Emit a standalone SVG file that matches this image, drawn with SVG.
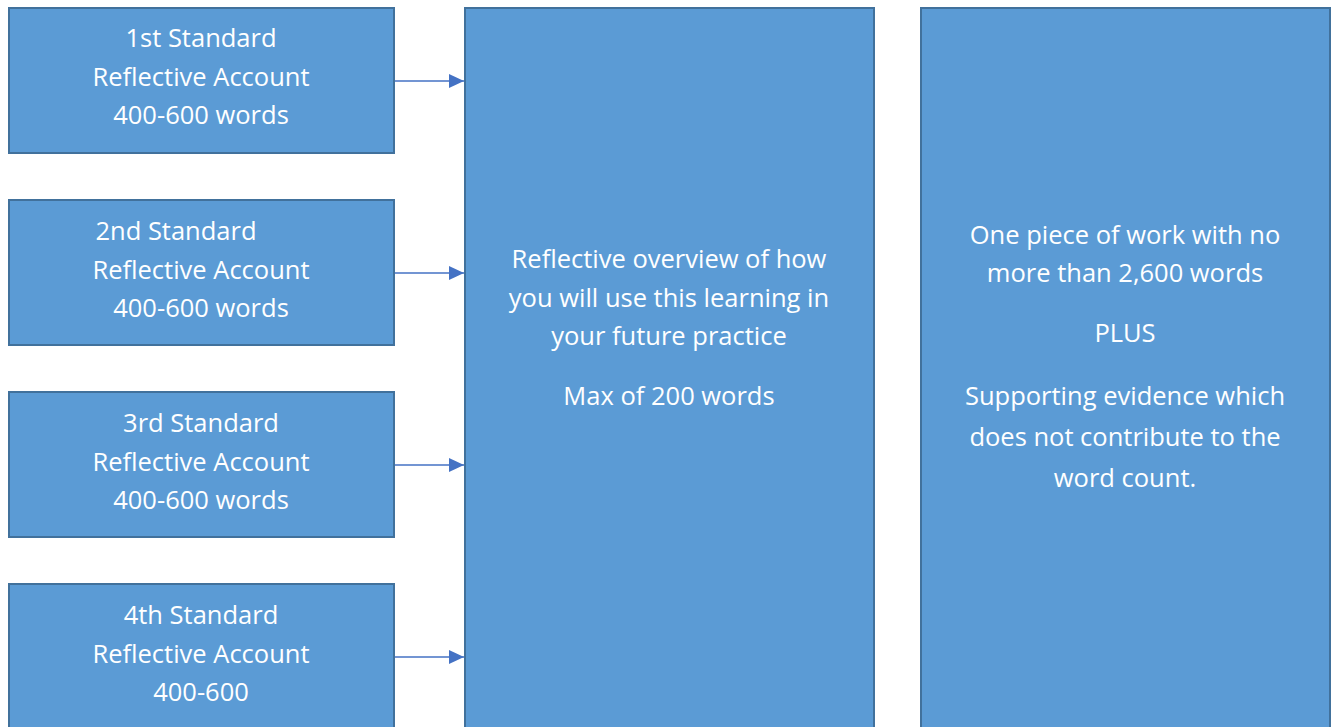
<svg xmlns="http://www.w3.org/2000/svg" width="1336" height="727" viewBox="0 0 1336 727">
<style>
.box{fill:#5B9BD5;stroke:#41719C;stroke-width:2}
.t{font-family:"Open Sans","Noto Sans","Liberation Sans",sans-serif;font-size:25.5px;fill:#ffffff;text-anchor:middle}
.c{stroke:#4472C4;stroke-width:1.3;fill:none}
</style>
<defs>
<marker id="ah" markerWidth="15" markerHeight="14" refX="15" refY="7" orient="auto" markerUnits="userSpaceOnUse">
<path d="M0,0 L15,7 L0,14 Z" fill="#4472C4"/>
</marker>
</defs>
<rect width="1336" height="727" fill="#ffffff"/>
<g id="connectors">
<line class="c" x1="395" y1="81" x2="464" y2="81" marker-end="url(#ah)"/>
<line class="c" x1="395" y1="273" x2="464" y2="273" marker-end="url(#ah)"/>
<line class="c" x1="395" y1="465" x2="464" y2="465" marker-end="url(#ah)"/>
<line class="c" x1="395" y1="657" x2="464" y2="657" marker-end="url(#ah)"/>
</g>
<g id="std1">
<rect class="box" x="9" y="8" width="385" height="145"/>
<text class="t" x="201" y="47">1st Standard</text>
<text class="t" x="201" y="86">Reflective Account</text>
<text class="t" x="201" y="124">400-600 words</text>
</g>
<g id="std2">
<rect class="box" x="9" y="200" width="385" height="145"/>
<text class="t" x="176" y="240">2nd Standard</text>
<text class="t" x="201" y="279">Reflective Account</text>
<text class="t" x="201" y="317">400-600 words</text>
</g>
<g id="std3">
<rect class="box" x="9" y="392" width="385" height="145"/>
<text class="t" x="201" y="432">3rd Standard</text>
<text class="t" x="201" y="471">Reflective Account</text>
<text class="t" x="201" y="509">400-600 words</text>
</g>
<g id="std4">
<rect class="box" x="9" y="584" width="385" height="160"/>
<text class="t" x="201" y="624">4th Standard</text>
<text class="t" x="201" y="663">Reflective Account</text>
<text class="t" x="201" y="701">400-600</text>
</g>
<g id="overview">
<rect class="box" x="465" y="8" width="409" height="740"/>
<text class="t" x="669" y="268">Reflective overview of how</text>
<text class="t" x="669" y="307">you will use this learning in</text>
<text class="t" x="669" y="345">your future practice</text>
<text class="t" x="669" y="405">Max of 200 words</text>
</g>
<g id="work">
<rect class="box" x="921" y="8" width="409" height="740"/>
<text class="t" x="1125" y="244">One piece of work with no</text>
<text class="t" x="1125" y="282">more than 2,600 words</text>
<text class="t" x="1125" y="342">PLUS</text>
<text class="t" x="1125" y="405">Supporting evidence which</text>
<text class="t" x="1125" y="446">does not contribute to the</text>
<text class="t" x="1125" y="487">word count.</text>
</g>
</svg>
